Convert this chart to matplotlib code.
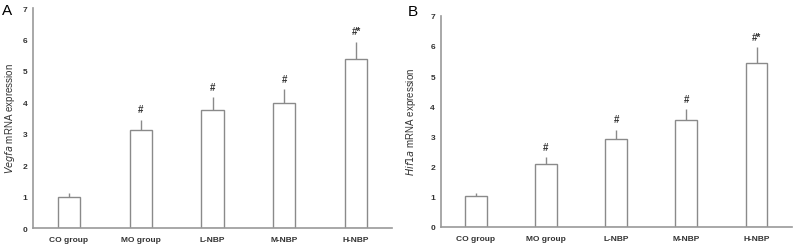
import numpy as np
import matplotlib.pyplot as plt

plt.rcParams['font.family'] = ['Liberation Sans', 'DejaVu Sans']

groups = ["CO group", "MO group", "L-NBP", "M-NBP", "H-NBP"]
vegfa_mean = [1.0, 3.12, 3.77, 3.99, 5.39]
vegfa_err = [0.10, 0.32, 0.39, 0.43, 0.54]
hif1a_mean = [1.01, 2.08, 2.91, 3.55, 5.43]
hif1a_err = [0.11, 0.22, 0.30, 0.35, 0.52]
marks = ["", "#", "#", "#", "#*"]

fig = plt.figure(figsize=(7.94, 2.51), dpi=100)
axA = fig.add_axes([0.0416, 0.0876, 0.4521, 0.8765])
axB = fig.add_axes([0.555, 0.0928, 0.442, 0.84])

txt = "#333333"
line = "#999999"


def panel(ax, mean, err, gene, letter, lx, ly, labx):
    x = np.arange(len(groups))
    ax.bar(x, mean, width=0.31, color="white", edgecolor="#8a8a8a", linewidth=1.0, zorder=2)
    ax.errorbar(x, mean, yerr=[np.zeros(len(err)), err], fmt="none",
                ecolor="#8a8a8a", elinewidth=1.0, capsize=0, zorder=1)
    for xi, m, e, s in zip(x, mean, err, marks):
        if s:
            ax.annotate(s, (xi, m + e), xytext=(0, 4), textcoords="offset points",
                        ha="center", va="bottom", fontsize=7, fontweight="bold", color=txt)
    ax.set_xlim(-0.5, 4.5)
    ax.set_ylim(0, 7)
    ax.set_yticks(range(8))
    ax.set_xticks(x)
    ax.set_xticklabels(groups)
    ax.tick_params(length=0, labelsize=6, labelcolor=txt)
    ax.tick_params(axis="x", pad=6)
    ax.tick_params(axis="y", pad=4)
    for lab in ax.get_xticklabels() + ax.get_yticklabels():
        lab.set_fontweight("bold")
    for sp in ["top", "right"]:
        ax.spines[sp].set_visible(False)
    for sp in ["left", "bottom"]:
        ax.spines[sp].set_color(line)
        ax.spines[sp].set_linewidth(1.2)
    ax.set_ylabel(r"$\it{" + gene + "}$ mRNA expression", fontsize=7, color=txt)
    ax.yaxis.set_label_coords(labx, 0.5)
    fig.text(lx, ly, letter, fontsize=11, color="black", ha="left", va="top")


panel(axA, vegfa_mean, vegfa_err, "Vegfa", "A", 0.002, 0.985, -0.045)
panel(axB, hif1a_mean, hif1a_err, "Hif1a", "B", 0.513, 0.98, -0.065)

fig.savefig("out.png", dpi=100)
